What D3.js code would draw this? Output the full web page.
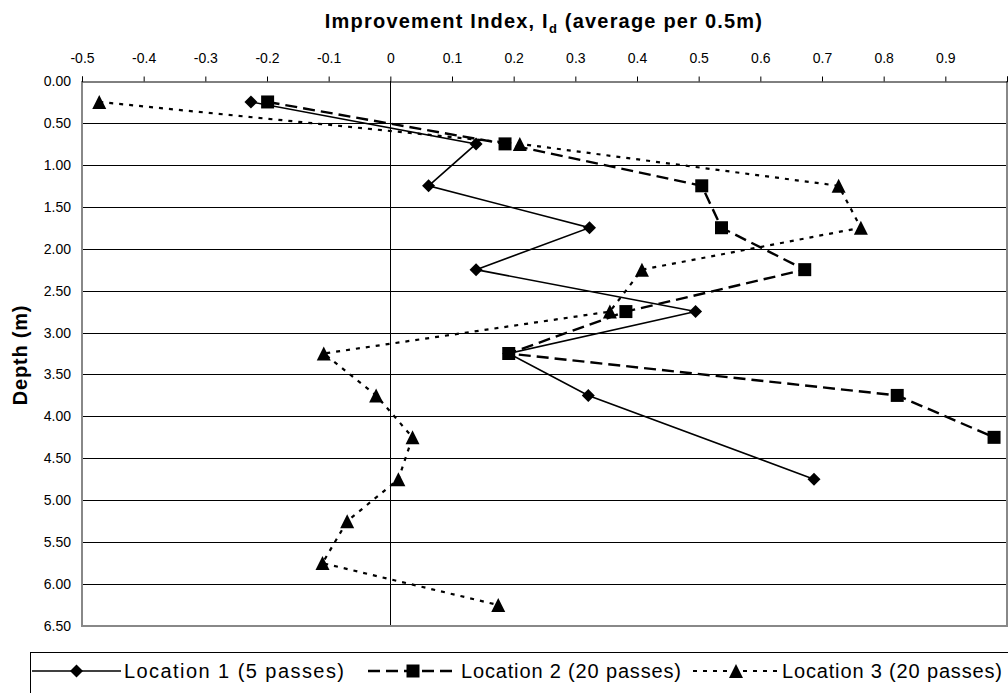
<!DOCTYPE html>
<html>
<head>
<meta charset="utf-8">
<script src="https://cdn.jsdelivr.net/npm/d3@7/dist/d3.min.js"></script>
<style>
  html, body { margin: 0; padding: 0; background: #fff; }
  svg { display: block; font-family: Arial, "Liberation Sans", sans-serif; }
</style>
</head>
<body>
<svg id="chart" width="1008" height="693"></svg>
<script>
// Improvement index per 0.5 m depth interval for three test locations
const depths1 = [0.25, 0.75, 1.25, 1.75, 2.25, 2.75, 3.25, 3.75, 4.75];
const loc1 = [-0.226, 0.139, 0.062, 0.323, 0.139, 0.495, 0.192, 0.321, 0.687];

const depths2 = [0.25, 0.75, 1.25, 1.75, 2.25, 2.75, 3.25, 3.75, 4.25];
const loc2 = [-0.199, 0.186, 0.505, 0.537, 0.672, 0.382, 0.192, 0.822, 0.979];

const depths3 = [0.25, 0.75, 1.25, 1.75, 2.25, 2.75, 3.25, 3.75, 4.25, 4.75, 5.25, 5.75, 6.25];
const loc3 = [-0.472, 0.210, 0.727, 0.763, 0.408, 0.356, -0.108, -0.023, 0.036, 0.013, -0.070, -0.110, 0.175];

const seriesNames = ["Location 1 (5 passes)", "Location 2 (20 passes)", "Location 3 (20 passes)"];
const xTicks = [-0.5, -0.4, -0.3, -0.2, -0.1, 0, 0.1, 0.2, 0.3, 0.4, 0.5, 0.6, 0.7, 0.8, 0.9];
const yTicks = [0, 0.5, 1, 1.5, 2, 2.5, 3, 3.5, 4, 4.5, 5, 5.5, 6, 6.5];

const svg = d3.select("#chart");
const plotL = 82, plotR = 1007, plotT = 81, plotB = 626;

const x = d3.scaleLinear().domain([-0.5, 1.0]).range([plotL, plotR]);
const y = d3.scaleLinear().domain([0, 6.5]).range([plotT, plotB]);

// horizontal gridlines
svg.append("g")
  .selectAll("line")
  .data(yTicks.filter(d => d > 0 && d < 6.5))
  .join("line")
  .attr("x1", plotL).attr("x2", plotR)
  .attr("y1", d => Math.round(y(d)) + 0.5).attr("y2", d => Math.round(y(d)) + 0.5)
  .attr("stroke", "#000").attr("stroke-width", 1);

// zero line
svg.append("line")
  .attr("x1", Math.round(x(0)) + 0.5).attr("x2", Math.round(x(0)) + 0.5)
  .attr("y1", plotT).attr("y2", plotB)
  .attr("stroke", "#000").attr("stroke-width", 1);

// plot frame (grey left, right, bottom)
svg.append("path")
  .attr("d", `M${plotL},${plotT}V${plotB}H${plotR}V${plotT}`)
  .attr("fill", "none").attr("stroke", "#888").attr("stroke-width", 2);

// top axis
const fmtX = d => d === 0 ? "0" : String(+d.toFixed(1));
const topAxis = d3.axisTop(x)
  .tickValues(xTicks.concat([1.0]))
  .tickSize(5)
  .tickPadding(14)
  .tickFormat(d => d >= 0.95 ? "" : fmtX(d));
const gTop = svg.append("g")
  .attr("transform", `translate(0,${plotT + 0.5})`)
  .call(topAxis);
gTop.select(".domain").attr("stroke", "#000").attr("stroke-width", 1);
gTop.selectAll(".tick line").attr("stroke", "#000");
gTop.selectAll(".tick text")
  .attr("font-size", 14).attr("fill", "#000")
  .attr("font-family", "Arial, 'Liberation Sans', sans-serif");

// left axis
const leftAxis = d3.axisLeft(y)
  .tickValues(yTicks)
  .tickSize(0)
  .tickPadding(11)
  .tickFormat(d3.format(".2f"));
const gLeft = svg.append("g")
  .attr("transform", `translate(${plotL},0)`)
  .call(leftAxis);
gLeft.select(".domain").remove();
gLeft.selectAll(".tick text")
  .attr("font-size", 14).attr("fill", "#000")
  .attr("font-family", "Arial, 'Liberation Sans', sans-serif");

// title
const title = svg.append("text")
  .attr("x", 544).attr("y", 28)
  .attr("text-anchor", "middle")
  .attr("font-size", 20).attr("font-weight", "bold")
  .attr("letter-spacing", "1.2px");
title.append("tspan").text("Improvement Index, I");
title.append("tspan").attr("font-size", 13).attr("dy", 5).text("d");
title.append("tspan").attr("dy", -5).text(" (average per 0.5m)");

// y axis title
svg.append("text")
  .attr("transform", `translate(27,355) rotate(-90)`)
  .attr("text-anchor", "middle")
  .attr("font-size", 20).attr("font-weight", "bold")
  .attr("letter-spacing", "0.8px")
  .text("Depth (m)");

// marker shapes
const markerPath = {
  diamond: "M0,-6.5L6.5,0L0,6.5L-6.5,0Z",
  square: "M-6.5,-6.5H6.5V6.5H-6.5Z",
  triangle: "M0,-7L7,7H-7Z"
};

const series = [
  { name: seriesNames[0], depths: depths1, values: loc1, dash: null, width: 1.6, marker: "diamond" },
  { name: seriesNames[1], depths: depths2, values: loc2, dash: "12,6", width: 2.4, marker: "square" },
  { name: seriesNames[2], depths: depths3, values: loc3, dash: "4,6", width: 2.2, marker: "triangle" }
];

const line = d3.line().x(d => x(d.v)).y(d => y(d.d));

const plot = svg.append("g");
series.forEach(s => {
  const pts = s.values.map((v, i) => ({ v, d: s.depths[i] }));
  plot.append("path")
    .datum(pts)
    .attr("d", line)
    .attr("fill", "none")
    .attr("stroke", "#000")
    .attr("stroke-width", s.width)
    .attr("stroke-dasharray", s.dash);
});
series.forEach(s => {
  const pts = s.values.map((v, i) => ({ v, d: s.depths[i] }));
  plot.append("g")
    .selectAll("path")
    .data(pts)
    .join("path")
    .attr("transform", d => `translate(${x(d.v)},${y(d.d)})`)
    .attr("d", markerPath[s.marker])
    .attr("fill", "#000");
});

// legend
const legend = svg.append("g");
legend.append("rect")
  .attr("x", 30.5).attr("y", 652.5)
  .attr("width", 990).attr("height", 50)
  .attr("fill", "#fff").attr("stroke", "#000").attr("stroke-width", 1);

const legendPos = [
  { x0: 32, x1: 121, tx: 124 },
  { x0: 368, x1: 458, tx: 461 },
  { x0: 693, x1: 779, tx: 782 }
];
series.forEach((s, i) => {
  const p = legendPos[i];
  const ly = 671;
  legend.append("line")
    .attr("x1", p.x0).attr("x2", p.x1)
    .attr("y1", ly).attr("y2", ly)
    .attr("stroke", "#000")
    .attr("stroke-width", s.width)
    .attr("stroke-dasharray", s.dash);
  legend.append("path")
    .attr("transform", `translate(${(p.x0 + p.x1) / 2},${ly})`)
    .attr("d", markerPath[s.marker])
    .attr("fill", "#000");
  legend.append("text")
    .attr("x", p.tx).attr("y", ly)
    .attr("dy", "0.35em")
    .attr("font-size", 20)
    .attr("textLength", 220)
    .attr("lengthAdjust", "spacing")
    .text(s.name);
});
</script>
</body>
</html>
